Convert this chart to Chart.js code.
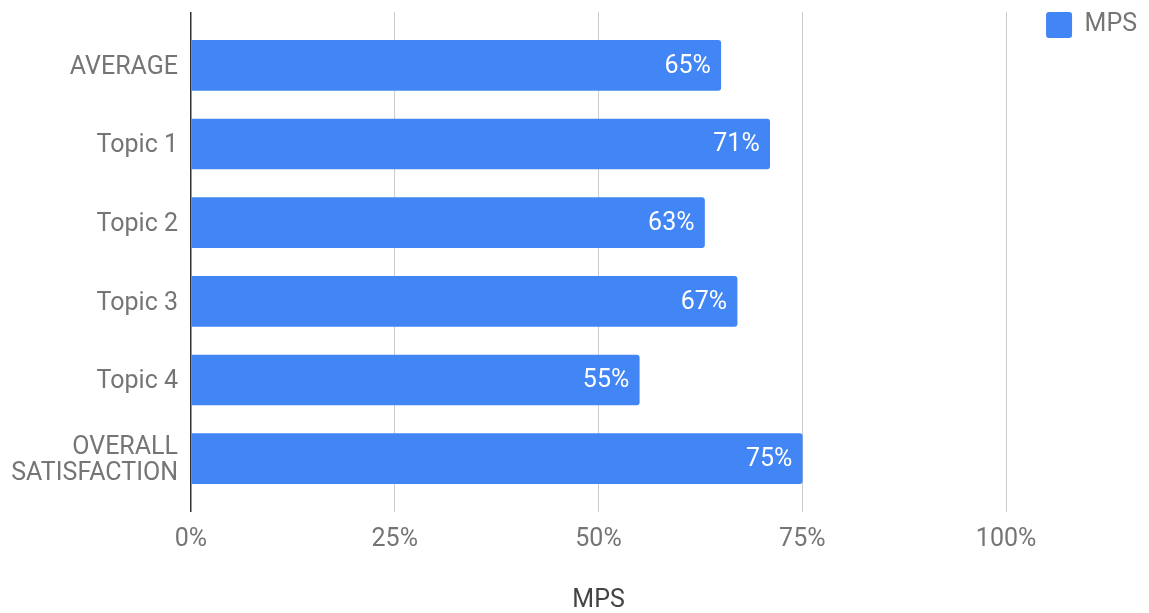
<!DOCTYPE html>
<html>
<head>
<meta charset="utf-8">
<script src="https://cdn.jsdelivr.net/npm/chart.js@4"></script>
<style>
  body { margin: 0; background: #fff; }
  #wrap { width: 1149px; height: 613px; position: relative; }
</style>
</head>
<body>
<div id="wrap"><canvas id="grafica"></canvas></div>
<script>
const categories = ['AVERAGE', 'Topic 1', 'Topic 2', 'Topic 3', 'Topic 4', ['OVERALL', 'SATISFACTION']];
const mpsValues = [65, 71, 63, 67, 55, 75];
const seriesName = 'MPS';
const axisMin = 0;
const axisMax = 100;
const axisStep = 25;

const fontFam = 'Roboto';
const fontSize = 25;
const gray = '#757575';

// etiquetas blancas dentro de la barra
const etiquetas = {
    id: 'etiquetas',
    afterDatasetsDraw(chart) {
        const ctx = chart.ctx;
        const meta = chart.getDatasetMeta(0);
        ctx.save();
        ctx.fillStyle = '#fff';
        ctx.font = fontSize + 'px ' + fontFam;
        ctx.textAlign = 'right';
        ctx.textBaseline = 'middle';
        meta.data.forEach((bar, i) => {
            ctx.fillText(mpsValues[i] + '%', bar.x - 10, bar.y + 1);
        });
        ctx.restore();
    }
};

const colorGrid = (c) => (c.tick && c.tick.value === 0 ? '#333333' : '#cccccc');
const anchoGrid = (c) => (c.tick && c.tick.value === 0 ? 1.5 : 1);

new Chart(document.getElementById('grafica'), {
    type: 'bar',
    data: {
        labels: categories,
        datasets: [{
            label: seriesName,
            data: mpsValues,
            backgroundColor: '#4285F4',
            borderRadius: { topRight: 3, bottomRight: 3 },
            borderSkipped: 'start',
            barThickness: 50
        }]
    },
    options: {
        indexAxis: 'y',
        responsive: true,
        maintainAspectRatio: false,
        animation: false,
        layout: { padding: { top: -28, right: 2, bottom: 0, left: 0 } },
        plugins: {
            tooltip: { enabled: false },
            legend: {
                position: 'right',
                align: 'start',
                labels: {
                    color: gray,
                    font: { family: fontFam, size: fontSize },
                    boxWidth: 26,
                    boxHeight: 26,
                    padding: 40,
                    useBorderRadius: true,
                    borderRadius: 3
                }
            }
        },
        scales: {
            x: {
                position: 'bottom',
                min: axisMin,
                max: axisMax,
                ticks: {
                    stepSize: axisStep,
                    padding: 13,
                    color: gray,
                    font: { family: fontFam, size: fontSize },
                    callback: (v) => v + '%'
                },
                grid: { color: colorGrid, lineWidth: anchoGrid, tickLength: 14 },
                border: { display: false },
                title: {
                    display: true,
                    text: seriesName,
                    color: '#444444',
                    font: { family: fontFam, size: fontSize, lineHeight: 1 },
                    padding: { top: 4, bottom: 0 }
                },
                afterFit: (s) => { s.height = 115; }
            },
            x2: {
                type: 'linear',
                position: 'top',
                min: axisMin,
                max: axisMax,
                ticks: { stepSize: axisStep, display: false },
                grid: { color: colorGrid, lineWidth: anchoGrid, tickLength: 14, drawOnChartArea: false },
                border: { display: false },
                afterFit: (s) => { s.height = 54; }
            },
            y: {
                ticks: {
                    padding: 13,
                    labelOffset: 2,
                    color: gray,
                    font: { family: fontFam, size: fontSize, lineHeight: 1.05 }
                },
                grid: { display: false, drawTicks: false },
                border: { display: false },
                afterFit: (s) => {
                    s.width = 191;
                    s.paddingTop = 0;
                    s.paddingBottom = 0;
                }
            }
        }
    },
    plugins: [etiquetas]
});
</script>
</body>
</html>
